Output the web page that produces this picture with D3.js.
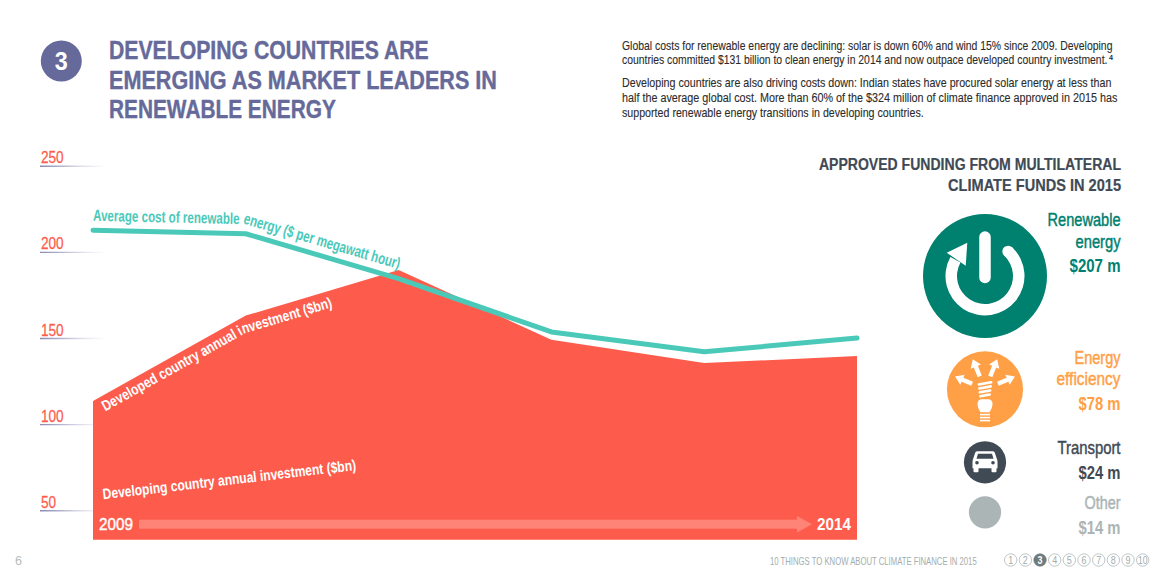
<!DOCTYPE html>
<html>
<head>
<meta charset="utf-8">
<script src="https://cdn.jsdelivr.net/npm/d3@7"></script>
<style>
  html, body { margin: 0; padding: 0; background: #fff; }
  svg { display: block; }
  text { font-family: "Liberation Sans", Arial, sans-serif; }
</style>
</head>
<body>
<div id="chart"></div>
<script>
// data
const years = [2009, 2010, 2011, 2012, 2013, 2014];
const developedInvestment = [113.5, 163, 189.5, 149, 135.5, 139.5];
const developingInvestment = [67, 82, 95, 112, 118, 131];
const averageCost = [212.5, 210.5, 184.5, 153.5, 142, 150];
const axisTicks = [50, 100, 150, 200, 250];

const fundNames = [["Renewable", "energy"], ["Energy", "efficiency"], ["Transport"], ["Other"]];
const fundValues = [207, 78, 24, 14];
const pageNumbers = [1, 2, 3, 4, 5, 6, 7, 8, 9, 10];

const titleLines = ["DEVELOPING COUNTRIES ARE", "EMERGING AS MARKET LEADERS IN", "RENEWABLE ENERGY"];
const bodyLines = [
  "Global costs for renewable energy are declining: solar is down 60% and wind 15% since 2009. Developing",
  "countries committed $131 billion to clean energy in 2014 and now outpace developed country investment.",
  "Developing countries are also driving costs down: Indian states have procured solar energy at less than",
  "half the average global cost. More than 60% of the $324 million of climate finance approved in 2015 has",
  "supported renewable energy transitions in developing countries."
];
const fundHeading = ["APPROVED FUNDING FROM MULTILATERAL", "CLIMATE FUNDS IN 2015"];

const red = "#fd5c4c", teal = "#4ac9b9", purple = "#666a9a", slate = "#3f4a55";
const fundColors = ["#00806f", "#ffa047", "#3f4a55", "#abb5b5"];

const svg = d3.select("#chart").append("svg").attr("width", 1163).attr("height", 580);

// draws a line of text squeezed horizontally to a measured width
function put(parent, str, x, yPos, size, width, color, weight, anchor, thicken) {
  const t = parent.append("text")
    .attr("font-size", size)
    .attr("fill", color)
    .attr("font-weight", weight || "normal")
    .attr("text-anchor", anchor || "start")
    .text(str);
  const sx = width / t.node().getComputedTextLength();
  t.attr("transform", `translate(${x},${yPos}) scale(${sx},1)`);
  if (thicken) t.attr("stroke", color).attr("stroke-width", thicken);
  return t;
}

// ---- header
svg.append("circle").attr("cx", 61.3).attr("cy", 61).attr("r", 20.5).attr("fill", purple);
put(svg, "3", 61.3, 70, 25, 13, "#fff", "bold", "middle");
[[59, 320], [89, 388], [117.7, 227]].forEach((p, i) => {
  put(svg, titleLines[i], 109, p[0], 25, p[1], purple, "bold", "start", 0.4);
});
[[49.5, 491], [64, 486], [87, 490], [102, 495.5], [116.5, 302]].forEach((p, i) => {
  put(svg, bodyLines[i], 622, p[0], 12, p[1], "#2b2b2b", "normal", "start", 0.1);
});
put(svg, "4", 1109, 60, 7, 4, "#2b2b2b", "bold");

// ---- scales
const x = d3.scaleLinear().domain([2009, 2014]).range([93, 857]);
const y = d3.scaleLinear().domain([50, 250]).range([510.3, 165.7]);
const chartBottom = 539.5;

const defs = svg.append("defs");
const grad = defs.append("linearGradient").attr("id", "tickFade")
  .attr("gradientUnits", "userSpaceOnUse")
  .attr("x1", 0).attr("x2", 68).attr("y1", 0).attr("y2", 0);
grad.append("stop").attr("offset", 0).attr("stop-color", "#8a8ab4");
grad.append("stop").attr("offset", 0.35).attr("stop-color", "#b9b9d2");
grad.append("stop").attr("offset", 1).attr("stop-color", "#dcdcea").attr("stop-opacity", 0);

// ---- axis, ticks fade out to the right
const axis = svg.append("g")
  .attr("transform", "translate(40,0)")
  .call(d3.axisRight(y).tickValues(axisTicks).tickSize(68));
axis.select(".domain").remove();
axis.selectAll(".tick line").attr("stroke", "url(#tickFade)").attr("stroke-width", 1.4);
axis.selectAll(".tick text")
  .attr("x", 0).attr("y", 0).attr("dy", 0)
  .attr("text-anchor", "start")
  .attr("fill", red)
  .attr("stroke", red)
  .attr("stroke-width", 0.25)
  .attr("font-size", 17)
  .attr("font-family", '"Liberation Sans"')
  .attr("transform", "translate(1,-3) scale(0.8,1)");

// ---- investment areas
function investmentArea(values) {
  return d3.area()
    .x((d, i) => x(years[i]))
    .y0(chartBottom)
    .y1(d => y(d))(values);
}
svg.append("path").attr("d", investmentArea(developedInvestment)).attr("fill", red);
svg.append("path").attr("d", investmentArea(developingInvestment)).attr("fill", red);

// ---- cost line
svg.append("path")
  .datum(averageCost)
  .attr("fill", "none")
  .attr("stroke", teal)
  .attr("stroke-width", 5)
  .attr("stroke-linecap", "round")
  .attr("stroke-linejoin", "round")
  .attr("d", d3.line().x((d, i) => x(years[i])).y(d => y(d)));

// ---- labels running along the series
function offsetPath(id, values, dy) {
  defs.append("path").attr("id", id)
    .attr("d", d3.line().x((d, i) => x(years[i])).y(d => y(d) + dy)(values.slice(0, 3)));
}
offsetPath("costLabel", averageCost, -9.5);
offsetPath("devLabel", developedInvestment, 17.5);

svg.append("text")
  .attr("font-size", 16).attr("fill", teal).attr("font-weight", "bold")
  .append("textPath").attr("href", "#costLabel")
  .attr("textLength", 312).attr("lengthAdjust", "spacingAndGlyphs")
  .text("Average cost of renewable energy ($ per megawatt hour)");

svg.append("text")
  .attr("font-size", 15).attr("fill", "#fff").attr("font-weight", "bold")
  .append("textPath").attr("href", "#devLabel").attr("startOffset", 14)
  .attr("textLength", 252).attr("lengthAdjust", "spacingAndGlyphs")
  .text("Developed country annual investment ($bn)");

const devGroup = svg.append("g").attr("transform", "translate(103.3,499.3) rotate(-6.6)");
put(devGroup, "Developing country annual investment ($bn)", 0, 0, 15, 255, "#fff", "bold");

// ---- time arrow
svg.append("rect").attr("x", 139).attr("y", 519.7).attr("width", 658).attr("height", 9).attr("fill", "#fe8478");
svg.append("path").attr("d", d3.line()([[797, 516], [812, 524.2], [797, 532.5]])).attr("fill", "#fe8478");
put(svg, String(years[0]), 99, 530, 17, 34, "#fff", "normal", "start", 0.4);
put(svg, String(years[5]), 817, 530, 17, 34, "#fff", "bold");

// ---- funds panel
put(svg, fundHeading[0], 1121, 170, 17, 302.5, slate, "bold", "end", 0.2);
put(svg, fundHeading[1], 1121, 191, 17, 173, slate, "bold", "end", 0.2);

const r = d3.scaleSqrt().domain([0, 207]).range([0, 62]);
const fundCy = [276, 389.3, 462.3, 512.3];
fundValues.forEach((v, i) => {
  svg.append("circle").attr("cx", 985).attr("cy", fundCy[i]).attr("r", r(v)).attr("fill", fundColors[i]);
});

const fundLabelRows = [
  { y: [226, 248], w: [73, 45], vy: 272, vw: 51 },
  { y: [364, 385], w: [46, 64], vy: 410, vw: 42 },
  { y: [454], w: [63], vy: 479, vw: 42 },
  { y: [509], w: [36], vy: 534, vw: 42 }
];
fundLabelRows.forEach((row, i) => {
  fundNames[i].forEach((name, j) => {
    put(svg, name, 1120.5, row.y[j], 18, row.w[j], fundColors[i], "normal", "end", 0.45);
  });
  put(svg, "$" + fundValues[i] + " m", 1120.5, row.vy, 18, row.vw, fundColors[i], "bold", "end");
});

// power + recycle icon
const power = svg.append("g").attr("transform", "translate(985,276)");
power.append("path")
  .attr("d", d3.arc().innerRadius(28).outerRadius(39.5)
    .startAngle(Math.PI * 0.24).endAngle(Math.PI * 1.66)())
  .attr("fill", "#fff");
power.append("circle").attr("cx", 33.75 * Math.sin(Math.PI * 0.24)).attr("cy", -33.75 * Math.cos(Math.PI * 0.24))
  .attr("r", 5.75).attr("fill", "#fff");
power.append("line").attr("y1", -39).attr("y2", 1.5)
  .attr("stroke", "#fff").attr("stroke-width", 11.5).attr("stroke-linecap", "round");
power.append("path").attr("d", "M-38.3,-23.3 L-17.7,-33.3 L-19.3,-10.3 Z").attr("fill", "#fff");

// bulb icon
const bulb = svg.append("g").attr("transform", "translate(985,389.3)");
[-67, -22, 22, 67].forEach(a => {
  const ray = bulb.append("g").attr("transform", `rotate(${a})`);
  ray.append("rect").attr("x", -2.2).attr("y", -25).attr("width", 4.4).attr("height", 11).attr("fill", "#fff");
  ray.append("path").attr("d", "M-5.5,-24.5 L0,-32.5 L5.5,-24.5 Z").attr("fill", "#fff");
});
[-6, -2, 2, 6].forEach((dy, i) => {
  bulb.append("rect").attr("x", -7.5 + i * 0.5).attr("y", dy - 1.2).attr("width", 15 - i).attr("height", 2.6)
    .attr("rx", 1.2).attr("fill", "#fff").attr("transform", `rotate(-10,0,${dy})`);
});
bulb.append("path").attr("d", "M-7.5,15 Q-7.5,10 -3,10 L3,10 Q7.5,10 7.5,15 Q7.5,19 4.5,23 L-4.5,23 Q-7.5,19 -7.5,15 Z").attr("fill", "#fff");
[24.5, 27.5, 30.5].forEach(dy => {
  bulb.append("rect").attr("x", -5).attr("y", dy).attr("width", 10).attr("height", 1.6).attr("fill", "#fff");
});

// car icon
const car = svg.append("g").attr("transform", "translate(985,462.3)");
car.append("path")
  .attr("d", "M-8,-11 L8,-11 Q9.5,-11 10,-9 L12,-3 Q12.5,-2 12.5,0 L12.5,6 L-12.5,6 L-12.5,0 Q-12.5,-2 -12,-3 L-10,-9 Q-9.5,-11 -8,-11 Z")
  .attr("fill", "#fff");
car.append("path").attr("d", "M-7,-8.5 L7,-8.5 L8.5,-3.5 L-8.5,-3.5 Z").attr("fill", fundColors[2]);
car.append("rect").attr("x", -11.5).attr("y", 5).attr("width", 5).attr("height", 5).attr("rx", 1).attr("fill", "#fff");
car.append("rect").attr("x", 6.5).attr("y", 5).attr("width", 5).attr("height", 5).attr("rx", 1).attr("fill", "#fff");
car.append("circle").attr("cx", -8).attr("cy", 0.5).attr("r", 1.8).attr("fill", fundColors[2]);
car.append("circle").attr("cx", 8).attr("cy", 0.5).attr("r", 1.8).attr("fill", fundColors[2]);

// ---- footer
put(svg, "6", 15, 565, 12, 7, "#b5bdbd");
put(svg, "10 THINGS TO KNOW ABOUT CLIMATE FINANCE IN 2015", 770, 564.5, 10.5, 207, "#a3adad");

const pageX = d3.scaleLinear().domain([1, 10]).range([1010.7, 1142.7]);
pageNumbers.forEach(n => {
  const active = n === 3;
  svg.append("circle").attr("cx", pageX(n)).attr("cy", 560).attr("r", 6.2)
    .attr("fill", active ? "#6f7a7a" : "#fff")
    .attr("stroke", active ? "#6f7a7a" : "#a3adad").attr("stroke-width", 0.7);
  put(svg, String(n), pageX(n), 563.6, 10, n === 10 ? 9.5 : 5, active ? "#fff" : "#a3adad", active ? "bold" : "normal", "middle");
});
</script>
</body>
</html>
